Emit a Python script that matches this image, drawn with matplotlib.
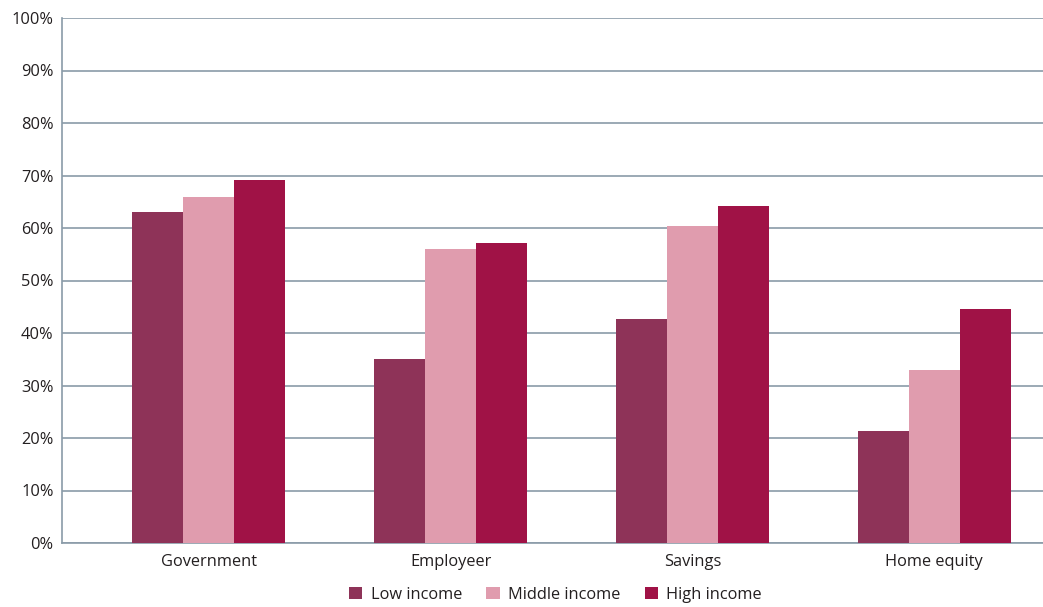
import matplotlib.pyplot as plt
import numpy as np

categories = ['Government', 'Employeer', 'Savings', 'Home equity']
series = ['Low income', 'Middle income', 'High income']
low = [63.0, 35.0, 42.7, 21.3]
middle = [65.9, 56.0, 60.4, 33.0]
high = [69.1, 57.1, 64.2, 44.6]
colors = ['#8E3358', '#E09CAE', '#A01246']

plt.rcParams['font.family'] = ['Open Sans', 'DejaVu Sans']

fig = plt.figure(figsize=(10.43, 6.07), dpi=100)
ax = fig.add_axes([62 / 1043, 64 / 607, 1 - 62 / 1043, 525 / 607])

x = np.arange(len(categories))
w = 0.211
for i, (vals, name) in enumerate(zip([low, middle, high], series)):
    ax.bar(x + (i - 1) * w, vals, w, color=colors[i], label=name, zorder=3)

ax.set_ylim(0, 100)
ax.set_xlim(-0.607, 3.45)
ax.set_yticks(np.arange(0, 101, 10))
ax.set_yticklabels([f'{v}%' for v in range(0, 101, 10)])
ax.set_xticks(x)
ax.set_xticklabels(categories)
ax.grid(axis='y', color='#8A9BA8', linewidth=1.2, zorder=0)
for s in ['top', 'right']:
    ax.spines[s].set_visible(False)
for s in ['left', 'bottom']:
    ax.spines[s].set_color('#8A9BA8')
    ax.spines[s].set_linewidth(1.2)
ax.tick_params(length=0, labelsize=11.8, colors='#231F20', pad=6)
ax.tick_params(axis='x', pad=8)

ax.legend(loc='upper center', bbox_to_anchor=(0.503, -0.055), ncol=3, frameon=False,
          fontsize=11.8, handlelength=0.8, handleheight=0.8, handletextpad=0.5,
          columnspacing=1.5, labelcolor='#231F20')

plt.savefig('out.png', dpi=100)
plt.close(fig)
